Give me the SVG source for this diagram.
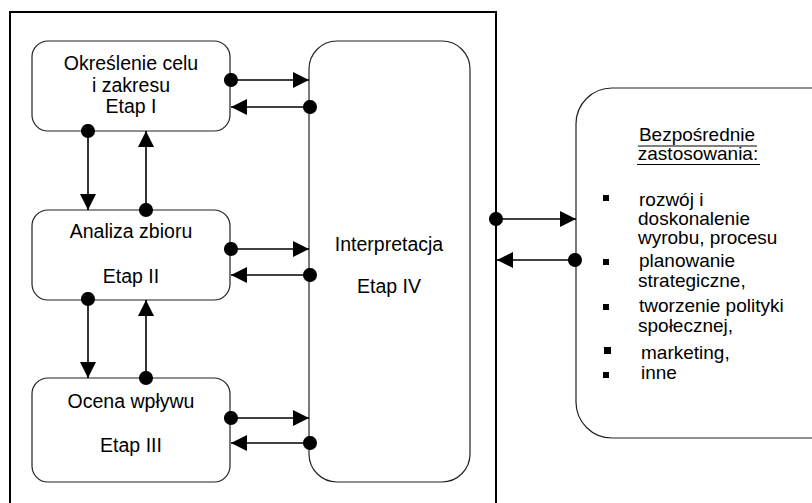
<svg xmlns="http://www.w3.org/2000/svg" width="812" height="503" viewBox="0 0 812 503">
<defs>
<style>
.box{fill:#fff;stroke:#222;stroke-width:1.2}
.frame{fill:none;stroke:#000;stroke-width:2}
.t{font-family:"Liberation Sans",Arial,sans-serif;font-size:19.5px;fill:#000}
.s{font-size:19px}
.c{text-anchor:middle}
.ln{stroke:#000;stroke-width:1.6;fill:none;marker-end:url(#ah);marker-start:url(#dot)}
.ul{stroke:#000;stroke-width:1.2}
.bul{fill:#000}
</style>
<marker id="ah" viewBox="0 0 16 16" refX="16" refY="8" markerWidth="16" markerHeight="16" markerUnits="userSpaceOnUse" orient="auto">
<path d="M0,0 L16,8 L0,16 Z" fill="#000"/>
</marker>
<marker id="dot" viewBox="0 0 16 16" refX="8" refY="8" markerWidth="15" markerHeight="15" markerUnits="userSpaceOnUse" orient="auto">
<circle cx="8" cy="8" r="7.5" fill="#000"/>
</marker>
</defs>
<rect width="812" height="503" fill="#fff"/>
<g id="frame"><rect class="frame" x="10" y="12" width="486" height="500"/></g>
<g id="n1">
<rect class="box" x="32" y="41" width="198" height="90" rx="16"/>
<text class="t c" x="131" y="70">Określenie celu</text>
<text class="t c" x="131" y="92">i zakresu</text>
<text class="t c" x="131" y="113">Etap I</text>
</g>
<g id="n2">
<rect class="box" x="32" y="210" width="198" height="90" rx="16"/>
<text class="t c" x="131" y="238">Analiza zbioru</text>
<text class="t c" x="131" y="283">Etap II</text>
</g>
<g id="n3">
<rect class="box" x="32" y="378" width="198" height="104" rx="16"/>
<text class="t c" x="131" y="408">Ocena wpływu</text>
<text class="t c" x="131" y="452">Etap III</text>
</g>
<g id="n4">
<rect class="box" x="309" y="41" width="161" height="441" rx="28"/>
<text class="t c" x="389" y="251">Interpretacja</text>
<text class="t c" x="389" y="293">Etap IV</text>
</g>
<g id="n5">
<rect class="box" x="576" y="88" width="280" height="350" rx="36"/>
<text class="t s c" x="697" y="141">Bezpośrednie</text>
<line class="ul" x1="638" y1="146" x2="757" y2="146"/>
<text class="t s c" x="698" y="160">zastosowania:</text>
<line class="ul" x1="637" y1="164.5" x2="760" y2="164.5"/>
<rect class="bul" x="603" y="195" width="6" height="6"/>
<text class="t s" x="639" y="206">rozwój i</text>
<text class="t s" x="638" y="225">doskonalenie</text>
<text class="t s" x="638" y="244">wyrobu, procesu</text>
<rect class="bul" x="603" y="259" width="6" height="6"/>
<text class="t s" x="639" y="267">planowanie</text>
<text class="t s" x="638" y="287">strategiczne,</text>
<rect class="bul" x="603" y="304" width="6" height="6"/>
<text class="t s" x="639" y="312">tworzenie polityki</text>
<text class="t s" x="638" y="332">społecznej,</text>
<rect class="bul" x="604" y="347" width="7" height="7"/>
<text class="t s" x="641" y="359">marketing,</text>
<rect class="bul" x="603" y="372" width="6" height="6"/>
<text class="t s" x="641" y="379">inne</text>
</g>
<g id="connectors">
<path class="ln" d="M231,80 H309"/>
<path class="ln" d="M310,107 H231"/>
<path class="ln" d="M231,249 H309"/>
<path class="ln" d="M310,275 H231"/>
<path class="ln" d="M231,418 H309"/>
<path class="ln" d="M310,443 H231"/>
<path class="ln" d="M88,131 V210"/>
<path class="ln" d="M146,210 V131"/>
<path class="ln" d="M88,299 V378"/>
<path class="ln" d="M146,378 V300"/>
<path class="ln" d="M496,219 H576"/>
<path class="ln" d="M575,260 H497"/>
</g>
</svg>
